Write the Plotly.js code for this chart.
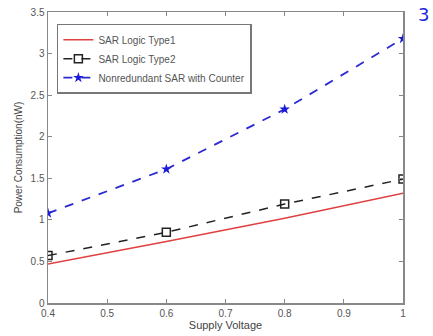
<!DOCTYPE html>
<html><head><meta charset="utf-8">
<script src="https://cdn.plot.ly/plotly-3.0.1.min.js"></script>
<style>html,body{margin:0;padding:0;background:#fff;}#chart{width:433px;height:336px;}</style>
</head><body><div id="chart"></div>
<script>
const voltage = [0.4, 0.6, 0.8, 1.0];
const type1 = [0.47, 0.74, 1.02, 1.32];
const type2 = [0.57, 0.85, 1.19, 1.49];
const nonredundant = [1.08, 1.61, 2.33, 3.18];
const seriesNames = ['SAR Logic Type1', 'SAR Logic Type2', 'Nonredundant SAR with Counter'];
const xTicks = [0.4, 0.5, 0.6, 0.7, 0.8, 0.9, 1];
const xTickText = ['0.4', '0.5', '0.6', '0.7', '0.8', '0.9', '1'];
const yTicks = [0, 0.5, 1, 1.5, 2, 2.5, 3, 3.5];
const yTickText = ['0', '0.5', '1', '1.5', '2', '2.5', '3', '3.5'];

const traces = [
  {x: voltage, y: type1, name: seriesNames[0], mode: 'lines', line: {color: '#e0403f', width: 1.5}},
  {x: voltage, y: type2, name: seriesNames[1], mode: 'lines+markers', line: {color: '#222', width: 1.5, dash: 'dash'},
   marker: {symbol: 'square-open', size: 8, color: '#222', line: {width: 1.5}}},
  {x: voltage, y: nonredundant, name: seriesNames[2], mode: 'lines+markers', line: {color: '#2a2ad0', width: 1.8, dash: 'dash'},
   marker: {symbol: 'star', size: 8, color: '#1a1ad8'}}
];
const axisCommon = {showgrid: false, zeroline: false, showline: true, mirror: 'ticks', linecolor: '#888', linewidth: 1.5,
  ticks: 'inside', ticklen: 4, tickcolor: '#888', tickfont: {family: 'Liberation Sans, Arial', size: 10, color: '#555'}};
const layout = {
  width: 433, height: 336, paper_bgcolor: '#fff', plot_bgcolor: '#fff',
  margin: {l: 48, r: 30, t: 12, b: 33},
  showlegend: true,
  legend: {x: 0.025, y: 0.96, xanchor: 'left', yanchor: 'top', bgcolor: '#fff', bordercolor: '#777', borderwidth: 1.5,
    font: {family: 'Liberation Sans, Arial', size: 10, color: '#555'}, tracegroupgap: 0, itemwidth: 30},
  xaxis: Object.assign({}, axisCommon, {range: [0.4, 1.0], tickvals: xTicks, ticktext: xTickText,
    title: {text: 'Supply Voltage', font: {family: 'Liberation Sans, Arial', size: 11, color: '#444'}, standoff: 4}}),
  yaxis: Object.assign({}, axisCommon, {range: [0, 3.5], tickvals: yTicks, ticktext: yTickText,
    title: {text: 'Power Consumption(nW)', font: {family: 'Liberation Sans, Arial', size: 10, color: '#444'}, standoff: 6}}),
  annotations: [{xref: 'paper', yref: 'paper', x: 1.079, y: 1.035, xanchor: 'right', yanchor: 'top', text: '3', showarrow: false,
    font: {family: 'DejaVu Sans', size: 18, color: '#1a2ad8'}}]
};
Plotly.newPlot('chart', traces, layout, {displayModeBar: false, staticPlot: true});
</script></body></html>
